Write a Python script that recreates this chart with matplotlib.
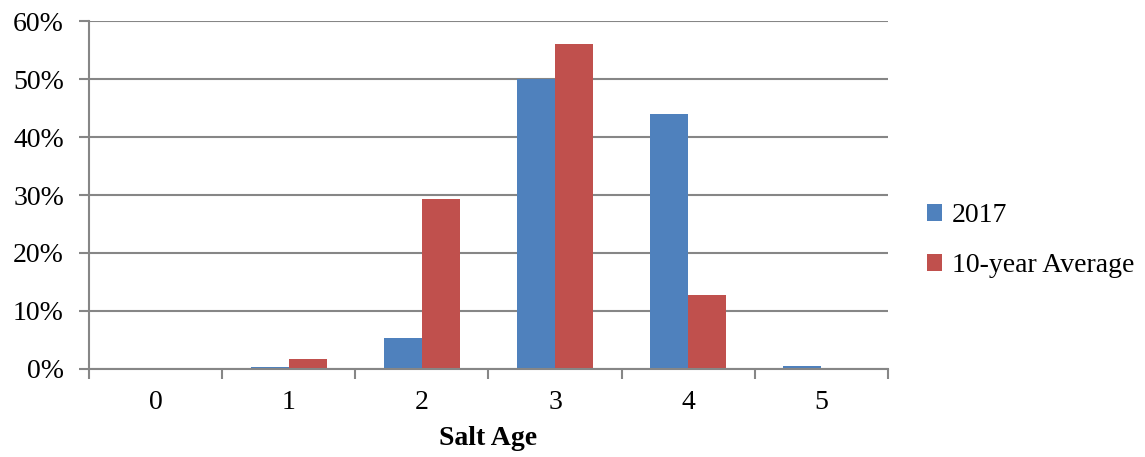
import matplotlib
matplotlib.use("Agg")
import matplotlib.pyplot as plt
import numpy as np
from matplotlib.ticker import FuncFormatter, FixedLocator

# --- Data ---
ages = ["0", "1", "2", "3", "4", "5"]
share_2017 = [0.0, 0.3, 5.4, 50.0, 43.9, 0.5]
share_10yr = [0.0, 1.8, 29.3, 56.0, 12.7, 0.0]

COL_2017 = "#4F81BD"
COL_AVG = "#C0504D"
COL_GRID = "#868686"

plt.rcParams['font.family'] = ['Liberation Serif', 'DejaVu Serif']
FS = 20

fig = plt.figure(figsize=(11.45, 4.57), dpi=100)
ax = fig.add_axes([0.0777, 0.1926, 0.6978, 0.7614])

x = np.arange(len(ages))
w = 1 / 3.5  # gap width 150%
ax.bar(x - w / 2, share_2017, width=w, color=COL_2017, label="2017", zorder=3)
ax.bar(x + w / 2, share_10yr, width=w, color=COL_AVG, label="10-year Average", zorder=3)

ax.set_xlim(-0.5, len(ages) - 0.5)
ax.set_ylim(0, 60)
ax.set_yticks(np.arange(0, 61, 10))
ax.yaxis.set_major_formatter(FuncFormatter(lambda v, p: f"{v:.0f}%"))
ax.grid(axis='y', color=COL_GRID, linewidth=1.5, zorder=0)

# category labels centred, tick marks on category boundaries
ax.xaxis.set_major_locator(FixedLocator(np.arange(-0.5, len(ages), 1)))
ax.set_xticklabels([])
ax.xaxis.set_minor_locator(FixedLocator(x))
ax.set_xticklabels(ages, minor=True)
ax.tick_params(axis='x', which='minor', length=0, pad=15, labelsize=FS)
ax.tick_params(axis='x', which='major', length=7, width=1.5, color=COL_GRID, direction='out')
ax.tick_params(axis='y', length=7, width=1.5, color=COL_GRID, labelsize=FS, pad=11)

for s in ['top', 'right']:
    ax.spines[s].set_visible(False)
for s in ['left', 'bottom']:
    ax.spines[s].set_color(COL_GRID)
    ax.spines[s].set_linewidth(1.5)
    ax.spines[s].set_zorder(4)

ax.set_xlabel("Salt Age", fontsize=FS, fontweight='bold', labelpad=8)

leg = ax.legend(loc='center left', bbox_to_anchor=(1.035, 0.368), frameon=False,
                fontsize=FS, handlelength=0.55, handleheight=0.55, handletextpad=0.35,
                labelspacing=0.9, borderaxespad=0)

fig.savefig("out.png", dpi=100)
